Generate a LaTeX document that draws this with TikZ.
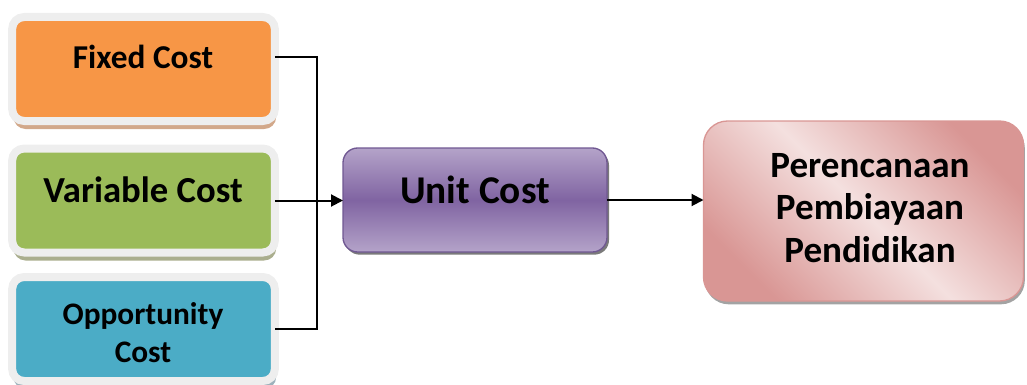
\documentclass[tikz,border=0pt]{standalone}
\usepackage{fontspec}
\setmainfont{Carlito}
\usepackage{tikz}
\usetikzlibrary{arrows.meta, positioning, calc, shadows}
\definecolor{myorange}{RGB}{247,150,70}
\definecolor{mygreen}{RGB}{155,187,89}
\definecolor{myteal}{RGB}{75,172,198}
\definecolor{myframe}{RGB}{238,238,238}
\definecolor{shdorange}{RGB}{210,168,138}
\definecolor{shdgreen}{RGB}{170,174,142}
\definecolor{shdteal}{RGB}{158,178,188}
\definecolor{mypurple}{RGB}{128,100,162}
\definecolor{lightpurple}{RGB}{180,163,201}
\definecolor{edgepurple}{RGB}{112,88,146}
\definecolor{mypink}{RGB}{217,150,148}
\definecolor{lightpink}{RGB}{244,224,223}
\definecolor{mydark}{RGB}{0,0,0}
\tikzset{
  costbox/.style={rectangle, draw=myframe, line width=6pt,
    rounded corners=9pt, minimum width=197pt, minimum height=78pt,
    inner sep=0pt, outer sep=0pt},
  costtext/.style={font=\bfseries\fontsize{25}{28.5}\selectfont,
    align=center, inner sep=0pt},
  unitbox/.style={rectangle, draw=edgepurple, line width=1pt,
    rounded corners=11pt, minimum width=198pt, minimum height=78pt,
    top color=lightpurple, bottom color=lightpurple, middle color=mypurple,
    inner sep=0pt, outer sep=0pt,
    drop shadow={shadow xshift=1.5pt, shadow yshift=-2pt,
      fill=black!65, opacity=.8}},
  goalbox/.style={rectangle, draw=mypink, line width=1pt,
    rounded corners=18pt, minimum width=240pt, minimum height=135pt,
    top color=mypink, bottom color=mypink, middle color=lightpink,
    shading angle=-45, inner sep=0pt, outer sep=0pt,
    drop shadow={shadow xshift=1pt, shadow yshift=-2.5pt,
      fill=black!45, opacity=.8}},
  arrow/.style={-{Triangle[length=9pt,width=9pt]}, line width=1.5pt, color=mydark},
  line/.style={line width=1.5pt, color=mydark}
}

\begin{document}
\begin{tikzpicture}[x=0.75pt, y=-0.75pt]
  \useasboundingbox (0,0) rectangle (1027,385);

  % Cost components
  \node[costbox, fill=myorange,
    drop shadow={shadow xshift=1pt, shadow yshift=-6pt, fill=shdorange, opacity=1}]
    (fixed) at (143.5,69) {};
  \node[costbox, fill=mygreen,
    drop shadow={shadow xshift=1pt, shadow yshift=-6pt, fill=shdgreen, opacity=1}]
    (variable) at (143.5,200.5) {};
  \node[costbox, fill=myteal,
    drop shadow={shadow xshift=1pt, shadow yshift=-6pt, fill=shdteal, opacity=1}]
    (opportunity) at (143.5,329) {};

  \node[costtext] (fixedtext) at (143,57) {Fixed Cost};
  \node[costtext, font=\bfseries\fontsize{27.5}{30}\selectfont] (variabletext) at (143,190) {Variable Cost};
  \node[costtext, font=\bfseries\fontsize{23.5}{28.5}\selectfont] (opportunitytext) at (143,333) {Opportunity\\Cost};

  % Unit cost and goal
  \node[unitbox] (unit) at (475,200) {};
  \node[font=\bfseries\fontsize{29.5}{32}\selectfont, inner sep=0pt] (unittext) at (475,190) {Unit Cost};

  \node[goalbox] (goal) at (863.5,211) {};
  \node[font=\bfseries\fontsize{27.8}{32}\selectfont, align=center, inner sep=0pt]
    (goaltext) at (870,208) {Perencanaan\\Pembiayaan\\Pendidikan};

  % Connectors
  \coordinate (joint) at (317,200);
  \draw[line] (fixed.east |- fixedtext.center) -| (joint) |- (opportunity.east);
  \draw[arrow] (variable.east) -- (variable.east -| unit.west);
  \draw[arrow] (unit.east) -- (unit.east -| goal.west);
\end{tikzpicture}
\end{document}
